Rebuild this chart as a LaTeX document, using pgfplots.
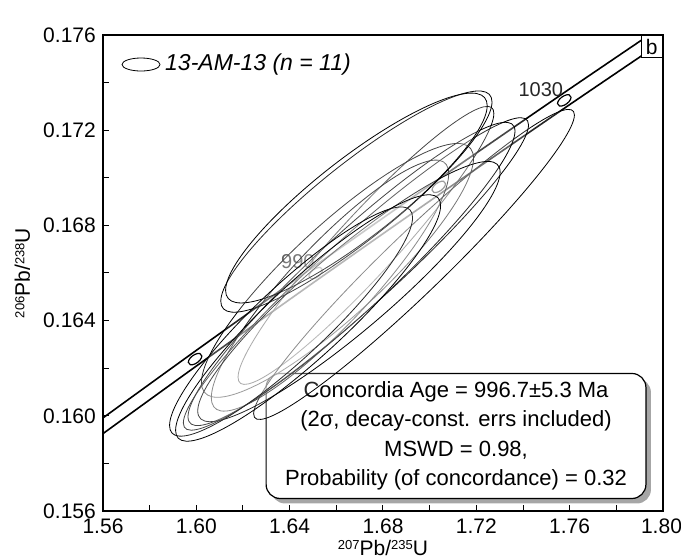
\documentclass[border=0pt]{standalone}
\usepackage{fontspec}
\setmainfont{Liberation Sans}
\usepackage{pgfplots}
\usepackage{pgfplotstable}
\pgfplotsset{compat=1.18}
\usetikzlibrary{shadows}

\newcommand{\bigf}{\fontsize{21}{25}\selectfont}
\newcommand{\sups}[1]{{\fontsize{13}{13}\selectfont\raisebox{5.6pt}{#1}}}

% error ellipse drawn as a mark: conjugate semi-diameters in data units
\pgfdeclareplotmark{errell}{%
  \pgfpathellipse{\pgfpointorigin}%
    {\pgfplotspointaxisdirectionxy{\esx}{\eay}}%
    {\pgfplotspointaxisdirectionxy{0}{\eby}}%
  \pgfusepathqfillstroke}

% concordia curve (t in Ma) with decay-constant error band
\pgfplotstableread{
t x y yup ylo
950 1.548762 0.158781 0.159111 0.158451
970 1.599462 0.162382 0.162712 0.162052
990 1.651172 0.165994 0.166324 0.165664
1010 1.703911 0.169617 0.169947 0.169287
1030 1.757697 0.173251 0.173581 0.172921
1050 1.812551 0.176897 0.177227 0.176567
}\concordia

% age markers on concordia
\pgfplotstableread{
x y sx sy rho lab
1.599462 0.162382 0.0029 0.00024 0.55 {}
1.651172 0.165994 0.0029 0.00024 0.55 990
1.703911 0.169617 0.0029 0.00024 0.55 {}
1.757697 0.173251 0.0029 0.00024 0.55 1030
}\agemarks

% data points: 207Pb/235U, 206Pb/238U, 2-sigma errors, error correlation
\pgfplotstableread{
x y sx sy rho
1.6727 0.16716 0.05482 0.005840 0.949
1.6605 0.16611 0.05829 0.005332 0.882
1.6573 0.16547 0.05087 0.005273 0.892
1.6933 0.16636 0.06874 0.006513 0.964
1.6684 0.16596 0.07397 0.006563 0.954
1.6665 0.16596 0.07007 0.006370 0.942
1.6654 0.16522 0.06480 0.005466 0.918
1.6686 0.16900 0.05812 0.004647 0.901
1.6686 0.16915 0.05606 0.004408 0.880
1.6406 0.16396 0.05207 0.004815 0.907
1.6479 0.16411 0.05679 0.005176 0.912
}\ellipses

\begin{document}
\begin{tikzpicture}
\begin{axis}[
  at={(0pt,0pt)}, anchor=south west,
  scale only axis, width=560pt, height=476pt,
  xmin=1.56, xmax=1.80, ymin=0.156, ymax=0.176,
  xtick={1.56,1.60,1.64,1.68,1.72,1.76,1.80},
  xticklabels={1.56,1.60,1.64,1.68,1.72,1.76,\hspace{-3pt}1.80},
  ytick={0.156,0.160,0.164,0.168,0.172,0.176},
  minor x tick num=1, minor y tick num=1,
  tick pos=left, tick align=inside,
  major tick length=6pt, minor tick length=6pt,
  every tick/.style={black, line width=1pt},
  axis line style={line width=1.5pt},
  scaled x ticks=false, scaled y ticks=false,
  xticklabel style={inner sep=0pt, yshift=-8pt},
  yticklabel style={inner sep=0pt, xshift=-7pt, /pgf/number format/.cd, fixed, fixed zerofill, precision=3},
  /pgf/number format/assume math mode=true,
  tick label style={font=\bigf},
  label style={font=\bigf},
  xlabel={\sups{207}Pb/\sups{235}U},
  ylabel={\sups{206}Pb/\sups{238}U},
  xlabel style={at={(axis description cs:0.5,-0.0935)}, anchor=base, inner sep=0pt},
  ylabel style={at={(axis description cs:-0.1304,0.5)}, anchor=base, inner sep=0pt},
]
% concordia band
\addplot[black, line width=1.6pt, smooth] table[x=x, y=yup] {\concordia};
\addplot[black, line width=1.6pt, smooth] table[x=x, y=ylo] {\concordia};
% age markers
\addplot[only marks, scatter, mark=errell,
  scatter/@pre marker code/.code={}, scatter/@post marker code/.code={},
  mark options={solid, draw=black, fill=white, line width=1.2pt},
  visualization depends on={\thisrow{sx} \as \esx},
  visualization depends on={\thisrow{rho}*\thisrow{sy} \as \eay},
  visualization depends on={\thisrow{sy}*sqrt(1-\thisrow{rho}^2) \as \eby},
] table[x=x, y=y] {\agemarks};
% age labels
\addplot[draw=none, mark=none,
  nodes near coords, point meta=explicit symbolic,
  nodes near coords style={anchor=south east, inner sep=0pt, xshift=-1pt, yshift=4pt, font=\fontsize{20}{24}\selectfont, text=black!85},
] table[x=x, y=y, meta=lab] {\agemarks};
% data-point error ellipses
\addplot[only marks, scatter, mark=errell,
  scatter/@pre marker code/.code={}, scatter/@post marker code/.code={},
  mark options={solid, draw=black, fill=white, fill opacity=0.15, line width=0.8pt},
  visualization depends on={\thisrow{sx} \as \esx},
  visualization depends on={\thisrow{rho}*\thisrow{sy} \as \eay},
  visualization depends on={\thisrow{sy}*sqrt(1-\thisrow{rho}^2) \as \eby},
] table[x=x, y=y] {\ellipses};

% annotations
\node[anchor=base east, inner sep=0pt, font=\bigf, xshift=-3pt, yshift=8pt] at (rel axis cs:1,1) {data-point error ellipses are 2σ};
\node[draw, line width=1.5pt, fill=white, anchor=north east, minimum width=21pt, minimum height=22pt, inner sep=0pt, font=\bigf] at (rel axis cs:1,1) {b};
\draw[line width=0.8pt] (rel axis cs:0.0679,0.938) ellipse [x radius=19pt, y radius=6.5pt];
\node[anchor=base west, inner sep=0pt, font=\fontsize{23}{27}\selectfont\itshape] at (rel axis cs:0.1107,0.9244) {13-AM-13 (n = 11)};
\node[draw, line width=1.2pt, fill=white, rounded corners=14pt, align=center,
  font=\fontsize{22}{29.5}\selectfont, inner xsep=19pt, inner ysep=8pt,
  drop shadow={shadow xshift=5pt, shadow yshift=-5pt, fill=black!35, opacity=1}]
  at (rel axis cs:0.6304,0.1576)
  {Concordia Age = 996.7±5.3 Ma\\(2σ, decay-const. errs included)\\MSWD = 0.98,\\Probability (of concordance) = 0.32};
\end{axis}
\pgfresetboundingbox
\path[use as bounding box] (-103pt,-49pt) rectangle (578pt,511pt);
\end{tikzpicture}
\end{document}
